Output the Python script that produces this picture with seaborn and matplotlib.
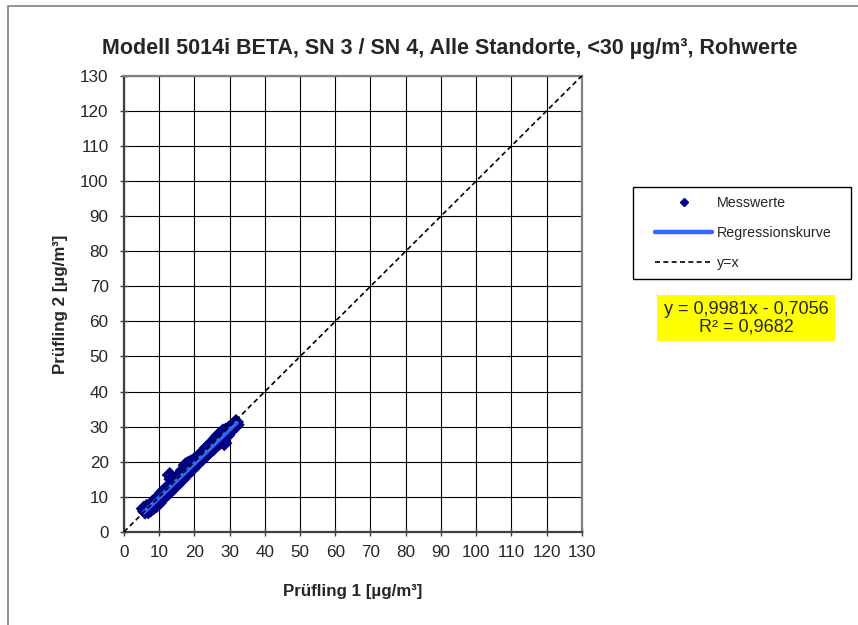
import matplotlib
matplotlib.use('Agg')
import matplotlib.pyplot as plt
import seaborn as sns
import pandas as pd
from matplotlib.lines import Line2D
from matplotlib.patches import Rectangle

TITLE = 'Modell 5014i BETA, SN 3 / SN 4, Alle Standorte, <30 µg/m³, Rohwerte'
X_LABEL = 'Prüfling 1 [µg/m³]'
Y_LABEL = 'Prüfling 2 [µg/m³]'
EQUATION = 'y = 0,9981x - 0,7056\nR² = 0,9682'
LEGEND_LABELS = ['Messwerte', 'Regressionskurve', 'y=x']
TICKS = list(range(0, 131, 10))
DIAGONAL = [0, 130]

# Prüfling 1 / Prüfling 2
pruefling_1 = [5.6, 6.0, 6.4, 6.9, 7.3, 7.6, 8.1, 8.4, 8.8, 9.2, 9.5, 9.9, 10.2, 10.6,
               10.9, 11.3, 11.6, 12.0, 12.3, 12.7, 13.0, 13.5, 13.2, 13.6, 14.1, 14.5,
               14.8, 15.2, 15.6, 16.0, 16.4, 16.7, 17.1, 17.5, 17.9, 18.2, 18.6, 19.0,
               19.4, 19.8, 20.1, 20.5, 20.9, 21.3, 21.7, 22.0, 22.4, 22.8, 23.2, 23.6,
               24.0, 24.3, 24.7, 25.1, 25.5, 25.9, 26.2, 26.6, 27.0, 27.4, 27.8, 28.1,
               28.0, 28.5, 28.9, 29.3, 29.7, 30.1, 30.6, 31.0, 31.4, 31.8, 32.0]
pruefling_2 = [6.6, 5.8, 7.1, 5.9, 7.2, 6.4, 8.3, 7.0, 8.9, 7.6, 9.6, 8.2, 10.1, 9.4,
               11.2, 9.9, 11.9, 10.6, 12.4, 11.2, 16.2, 15.0, 12.0, 13.8, 12.6, 14.7,
               13.3, 15.6, 14.2, 16.2, 14.9, 17.5, 15.8, 19.0, 16.5, 19.4, 17.6, 19.8,
               18.0, 20.3, 18.9, 20.6, 19.6, 21.2, 20.4, 22.3, 21.1, 23.0, 21.8, 24.0,
               22.6, 24.6, 23.3, 25.2, 23.9, 26.4, 24.8, 27.2, 25.4, 27.9, 26.3, 28.6,
               25.8, 25.3, 28.9, 27.5, 29.4, 28.6, 30.0, 29.7, 30.8, 31.3, 30.5]


def main():
    df = pd.DataFrame({'p1': pruefling_1, 'p2': pruefling_2})

    sns.set_style('white')
    plt.rcParams['font.family'] = ['Liberation Sans', 'DejaVu Sans']

    fig = plt.figure(figsize=(8.58, 6.25), dpi=100)
    ax = fig.add_axes([0.1445, 0.149, 0.5335, 0.7296])

    # outer chart frame
    fig.patches.append(Rectangle((0.0093, -0.05), 1.1, 1.0404, transform=fig.transFigure,
                                 fill=False, edgecolor='#808080', linewidth=1.2))

    sns.scatterplot(data=df, x='p1', y='p2', marker='D', s=68, color='#000080',
                    edgecolor='none', ax=ax, zorder=3)
    sns.regplot(data=df, x='p1', y='p2', scatter=False, ci=None, ax=ax,
                line_kws={'color': '#3366FF', 'linewidth': 3.0, 'zorder': 4})
    sns.lineplot(x=DIAGONAL, y=DIAGONAL, color='black', linestyle=(0, (3, 2)),
                 linewidth=1.2, ax=ax, zorder=5)

    ax.set_xlim(0, 130)
    ax.set_ylim(0, 130)
    ax.set_xticks(TICKS)
    ax.set_yticks(TICKS)
    ax.grid(True, color='black', linewidth=0.8)
    ax.set_axisbelow(True)
    ax.tick_params(axis='both', direction='inout', length=6, width=1, labelsize=12.3,
                   color='#404040', left=True, bottom=True)
    ax.tick_params(axis='x', pad=6.5)
    ax.tick_params(axis='y', pad=8)
    for side in ['left', 'bottom']:
        ax.spines[side].set_color('#404040')
        ax.spines[side].set_linewidth(1.6)
    for side in ['top', 'right']:
        ax.spines[side].set_color('#808080')
        ax.spines[side].set_linewidth(1.6)

    ax.set_xlabel(X_LABEL, fontsize=12.2, fontweight='bold', labelpad=17)
    ax.set_ylabel(Y_LABEL, fontsize=12.2, fontweight='bold', labelpad=9)
    fig.text(0.524, 0.922, TITLE, ha='center', va='center', fontsize=15.5, fontweight='bold')

    # legend frame drawn on its own, entries placed inside it
    fig.patches.append(Rectangle((633 / 858, 1 - 279 / 625), 218 / 858, 92 / 625,
                                 transform=fig.transFigure, facecolor='white',
                                 edgecolor='black', linewidth=1.0, zorder=1))
    handles = [
        Line2D([], [], linestyle='none', marker='D', markersize=4.5, color='#000080'),
        Line2D([], [], color='#3366FF', linewidth=3.2),
        Line2D([], [], color='black', linestyle=(0, (3, 2)), linewidth=1.2),
    ]
    fig.legend(handles, LEGEND_LABELS, loc='upper left',
               bbox_to_anchor=(655 / 858, 1 - 196 / 625), fontsize=10.3,
               frameon=False, handlelength=4.0, handletextpad=0.3,
               labelspacing=1.12, borderpad=0, borderaxespad=0)

    fig.text(0.8695, 0.491, EQUATION, ha='center', va='center', fontsize=13,
             multialignment='center', linespacing=1.0,
             bbox=dict(boxstyle='square,pad=0.35', facecolor='#FFFF00', edgecolor='none'))

    fig.savefig('out.png', dpi=100)


if __name__ == '__main__':
    main()
